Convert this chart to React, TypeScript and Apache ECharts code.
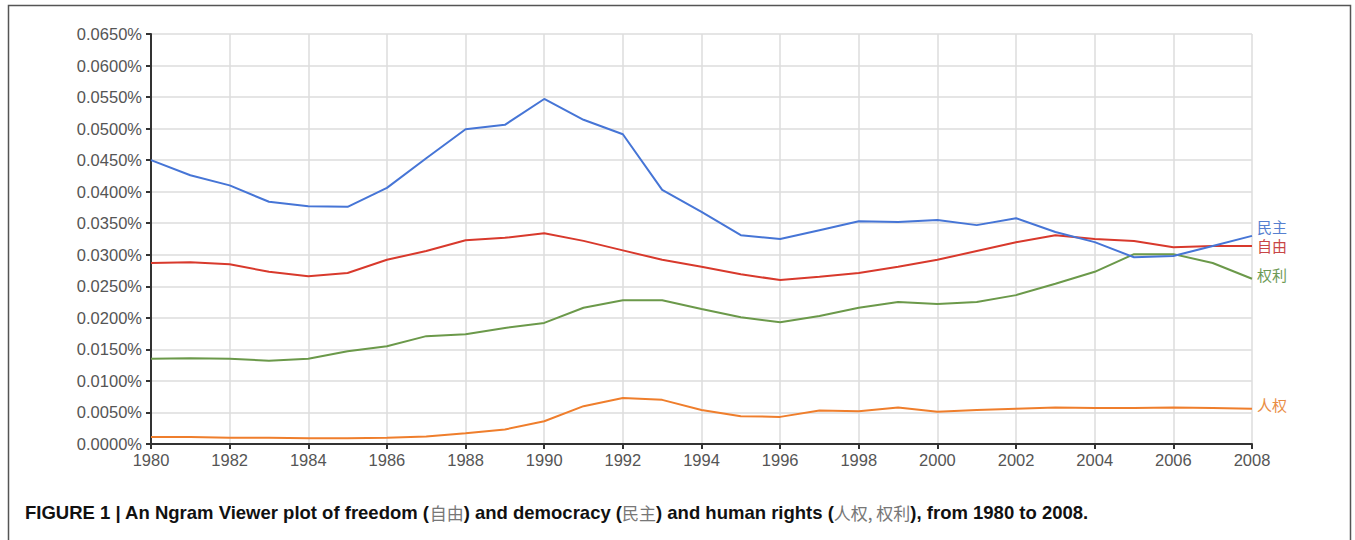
import React, { useEffect, useRef } from "react";
import * as echarts from "echarts";

const years = [1980,1981,1982,1983,1984,1985,1986,1987,1988,1989,1990,1991,1992,1993,1994,1995,1996,1997,1998,1999,2000,2001,2002,2003,2004,2005,2006,2007,2008];

const minzhu = [0.0450,0.0426,0.0410,0.0384,0.0377,0.0376,0.0406,0.0453,0.0499,0.0506,0.0547,0.0514,0.0491,0.0403,0.0368,0.0331,0.0325,0.0339,0.0353,0.0352,0.0355,0.0347,0.0358,0.0336,0.0320,0.0296,0.0298,0.0314,0.0330];
const ziyou = [0.0287,0.0288,0.0285,0.0273,0.0266,0.0271,0.0292,0.0306,0.0323,0.0327,0.0334,0.0322,0.0307,0.0292,0.0281,0.0269,0.0260,0.0265,0.0271,0.0281,0.0292,0.0306,0.0320,0.0331,0.0325,0.0322,0.0312,0.0314,0.0314];
const quanli = [0.0135,0.0136,0.0135,0.0132,0.0135,0.0147,0.0155,0.0171,0.0174,0.0184,0.0192,0.0216,0.0228,0.0228,0.0214,0.0201,0.0193,0.0203,0.0216,0.0225,0.0222,0.0225,0.0236,0.0254,0.0273,0.0301,0.0301,0.0287,0.0262];
const renquan = [0.0011,0.0011,0.0010,0.0010,0.0009,0.0009,0.0010,0.0012,0.0017,0.0023,0.0036,0.0060,0.0073,0.0070,0.0054,0.0044,0.0043,0.0053,0.0052,0.0058,0.0051,0.0054,0.0056,0.0058,0.0057,0.0057,0.0058,0.0057,0.0056];

const seriesNames = ["民主", "自由", "权利", "人权"];
const seriesColors = ["#4675d6", "#d8392c", "#6b994a", "#ef7e2c"];
const labelColors = ["#5680d0", "#c84646", "#6d9a55", "#e98d45"];
const labelOffsets = [[3, -9], [3, 0], [3, -4], [3, -4]];
const seriesValues = [minzhu, ziyou, quanli, renquan];

const captionParts = [
  ["b", "FIGURE 1 | An Ngram Viewer plot of freedom ("],
  ["c", "自由"],
  ["b", ") and democracy ("],
  ["c", "民主"],
  ["b", ") and human rights ("],
  ["c", "人权, 权利"],
  ["b", "), from 1980 to 2008."],
];

export default function App() {
  const ref = useRef<HTMLDivElement>(null);
  useEffect(() => {
    if (!ref.current) return;
    const chart = echarts.init(ref.current, null, { renderer: "svg" });
    const font = "'Liberation Sans', Arial, sans-serif";
    const cjk = "'Noto Sans CJK SC', sans-serif";
    const captionText = captionParts.map(([k, t]) => `{${k}|${t}}`).join("");
    chart.setOption({
      animation: false,
      backgroundColor: "#ffffff",
      grid: { left: 151, right: 103, top: 34, bottom: 96, containLabel: false },
      xAxis: {
        type: "value",
        min: 1980,
        max: 2008,
        interval: 2,
        axisLine: { show: true, lineStyle: { color: "#333", width: 2 } },
        axisTick: { show: true, length: 5, lineStyle: { color: "#333", width: 2 } },
        axisLabel: { color: "#555", fontSize: 16.5, fontFamily: font, margin: 7, formatter: (v: number) => String(v) },
        splitLine: { show: true, lineStyle: { color: "#dcdcdc", width: 1.5 } },
      },
      yAxis: {
        type: "value",
        min: 0,
        max: 0.065,
        interval: 0.005,
        axisLine: { show: true, lineStyle: { color: "#333", width: 2 } },
        axisTick: { show: true, length: 5, lineStyle: { color: "#333", width: 2 } },
        axisLabel: { color: "#555", fontSize: 16.5, fontFamily: font, margin: 9, formatter: (v: number) => v.toFixed(4) + "%" },
        splitLine: { show: true, lineStyle: { color: "#dcdcdc", width: 1.5 } },
      },
      series: seriesNames.map((name, i) => ({
        name,
        type: "line",
        data: years.map((y, j) => [y, seriesValues[i][j]]),
        showSymbol: false,
        symbol: "none",
        lineStyle: { color: seriesColors[i], width: 2 },
        itemStyle: { color: seriesColors[i] },
        z: 10 - i,
        endLabel: {
          show: true,
          formatter: name,
          color: labelColors[i],
          fontSize: 15,
          lineHeight: 15,
          fontFamily: cjk,
          offset: labelOffsets[i],
          distance: 2,
        },
      })),
      graphic: [
        {
          type: "rect",
          shape: { x: 8.5, y: 5.5, width: 1342, height: 560 },
          style: { fill: "none", stroke: "#555", lineWidth: 1.5 },
          silent: true,
        },
        {
          type: "text",
          left: 25,
          top: 503,
          style: {
            text: captionText,
            rich: {
              b: { fontFamily: font, fontWeight: "bold", fontSize: 18.5, fill: "#111" },
              c: { fontFamily: cjk, fontWeight: "normal", fontSize: 17, fill: "#777" },
            },
          },
        },
      ],
    });
    return () => chart.dispose();
  }, []);
  return (
    <div style={{ position: "absolute", left: 0, top: 0, width: 1355, height: 540 }}>
      <div ref={ref} style={{ width: 1355, height: 540 }} />
    </div>
  );
}
